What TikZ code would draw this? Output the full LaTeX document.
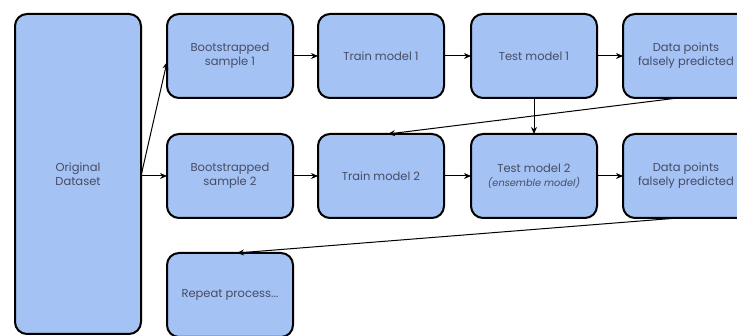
\documentclass[tikz,border=0pt]{standalone}
\usepackage{fontspec}
\setmainfont{Poppins}
\usetikzlibrary{arrows.meta,positioning}
\definecolor{boxblue}{HTML}{A4C2F4}
\definecolor{boxtext}{HTML}{474C63}

\begin{document}
\begin{tikzpicture}[->, >={Stealth[length=7pt,width=6pt]}, line width=1pt, node distance=26pt, x=1pt, y=1pt]
        \tikzstyle{box}=[rectangle, rounded corners=12pt, fill=boxblue, draw=black, line width=2pt, text=boxtext, minimum width=126pt, minimum height=84pt, inner sep=0pt, outer sep=0pt, align=center, font=\fontsize{11.5}{14}\selectfont]
        \useasboundingbox (0,0) rectangle (737,-336);
        \clip (0,0) rectangle (737,-336);

        \node[box, minimum height=320pt, anchor=north west]    (orig) at (15,-14)    {Original\\Dataset};
        \node[box, right=26pt of orig.north east, anchor=north west]    (bs1)    {Bootstrapped\\sample 1};
        \node[box]    (train1)[right=25pt of bs1]      {Train model 1};
        \node[box]    (test1)[right=27pt of train1]    {Test model 1};
        \node[box]    (dp1)[right=26pt of test1]       {Data points\\falsely predicted};

        \node[box]    (bs2)[below=36pt of bs1]         {Bootstrapped\\sample 2};
        \node[box]    (train2)[below=36pt of train1]   {Train model 2};
        \node[box]    (test2)[below=36pt of test1]     {Test model 2\\{\fontsize{9.8}{12}\selectfont\itshape (ensemble model)}};
        \node[box]    (dp2)[below=36pt of dp1]         {Data points\\falsely predicted};

        \node[box]    (rep)[below=35pt of bs2]         {Repeat process...};

        \path
        (orig.east |- bs2.west)
        edge    ([yshift=-6pt]bs1.west)
        edge    (bs2.west)

        (bs1)    edge    (train1)
        (train1) edge    (test1)
        (test1)  edge    (dp1)
        (test1)  edge    (test2)
        ([xshift=-8pt]dp1.south)   edge    ([xshift=7pt]train2.north)

        (bs2)    edge    (train2)
        (train2) edge    (test2)
        (test2)  edge    (dp2)
        ([xshift=-8pt]dp2.south)   edge    ([xshift=7pt]rep.north);
\end{tikzpicture}
\end{document}
